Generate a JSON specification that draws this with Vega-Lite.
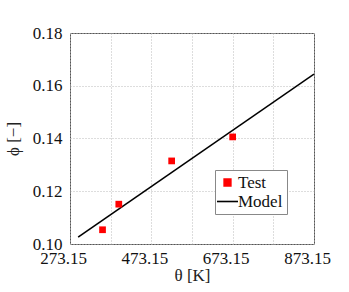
{
  "$schema": "https://vega.github.io/schema/vega-lite/v6.json",
  "width": 244,
  "height": 211,
  "autosize": "none",
  "padding": {"left": 70, "top": 33, "right": 35, "bottom": 48},
  "background": "white",
  "config": {
    "font": "Liberation Serif",
    "view": {"stroke": "#555", "strokeWidth": 1},
    "axis": {
      "labelFont": "Liberation Serif",
      "titleFont": "Liberation Serif",
      "labelFontSize": 17,
      "titleFontSize": 17,
      "labelColor": "#111",
      "titleColor": "#222",
      "titleFontWeight": "normal",
      "domain": false,
      "ticks": false,
      "gridColor": "#bbb",
      "gridDash": [1, 2],
      "gridWidth": 1
    }
  },
  "datasets": {
    "test": [
      {"theta": 353.15, "phi": 0.1054, "series": "Test"},
      {"theta": 393.15, "phi": 0.1151, "series": "Test"},
      {"theta": 523.15, "phi": 0.1315, "series": "Test"},
      {"theta": 673.15, "phi": 0.1406, "series": "Test"}
    ],
    "model": [
      {"theta": 293.15, "phi": 0.1026, "series": "Model"},
      {"theta": 873.15, "phi": 0.1644, "series": "Model"}
    ]
  },
  "encoding": {
    "x": {
      "field": "theta", "type": "quantitative",
      "scale": {"domain": [273.15, 873.15], "nice": false, "zero": false},
      "axis": {
        "title": "θ [K]",
        "values": [273.15, 373.15, 473.15, 573.15, 673.15, 773.15, 873.15],
        "labelExpr": "(round(datum.value - 273.15) % 200 == 0) ? format(datum.value, '.2f') : ''",
        "labelOffset": -7,
        "labelPadding": 6,
        "labelFlush": false,
        "titlePadding": 1
      }
    },
    "y": {
      "field": "phi", "type": "quantitative",
      "scale": {"domain": [0.10, 0.18], "nice": false, "zero": false},
      "axis": {
        "title": "ϕ [−]",
        "values": [0.10, 0.12, 0.14, 0.16, 0.18],
        "format": ".2f",
        "labelPadding": 8,
        "titlePadding": 10
      }
    },
    "color": {
      "field": "series", "type": "nominal",
      "scale": {"domain": ["Test", "Model"], "range": ["#ff0000", "#000000"]},
      "legend": {
        "title": null,
        "orient": "none",
        "legendX": 145,
        "legendY": 137,
        "fillColor": "white",
        "strokeColor": "#888",
        "padding": 4,
        "labelFont": "Liberation Serif",
        "labelFontSize": 17,
        "labelColor": "#111",
        "labelOffset": 2,
        "rowPadding": 1,
        "symbolSize": 441,
        "symbolStrokeWidth": 1.6,
        "values": ["Test", "Model"],
        "encode": {
          "symbols": {
            "update": {
              "shape": {"signal": "datum.value === 'Model' ? 'stroke' : 'square'"},
              "size": {"signal": "datum.value === 'Model' ? 441 : 45"},
              "stroke": {"signal": "datum.value === 'Model' ? '#000000' : 'transparent'"},
              "fill": {"signal": "datum.value === 'Model' ? 'transparent' : '#ff0000'"},
              "opacity": {"value": 1}
            }
          }
        }
      }
    }
  },
  "layer": [
    {
      "data": {"name": "model"},
      "mark": {"type": "line", "strokeWidth": 1.6, "clip": true}
    },
    {
      "data": {"name": "test"},
      "mark": {"type": "point", "shape": "square", "filled": true, "opacity": 1, "size": 45}
    }
  ]
}
